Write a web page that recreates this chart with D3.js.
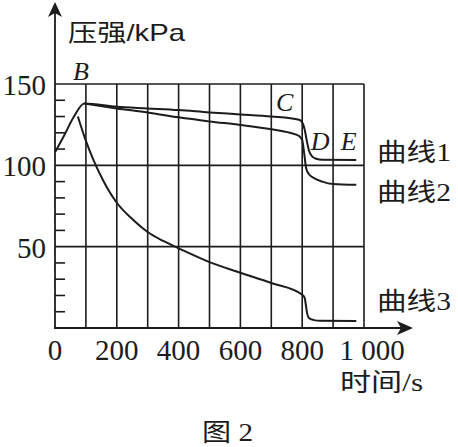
<!DOCTYPE html>
<html>
<head>
<meta charset="utf-8">
<script src="https://cdn.jsdelivr.net/npm/d3@7"></script>
<style>
  html, body { margin: 0; padding: 0; background: #fff; }
  svg { display: block; }
</style>
</head>
<body>
<svg id="chart" width="458" height="447"></svg>
<script>
// ---- data ----
const xTickValues = [0, 200, 400, 600, 800, 1000];
const xTickLabels = ["0", "200", "400", "600", "800", "1 000"];
const xGridValues = [100, 200, 300, 400, 500, 600, 700, 800, 900, 1000];
const yTickValues = [50, 100, 150];
const yTickLabels = ["50", "100", "150"];
const yMinorValues = [10, 20, 30, 40, 60, 70, 80, 90, 110, 120, 130, 140];

const curve1T = [0, 30, 60, 95, 200, 300, 400, 500, 600, 700, 790, 800, 808, 815, 822, 832, 845, 865, 975];
const curve1P = [108, 118.5, 129.5, 138, 136, 135, 134, 132.5, 131.3, 130, 128, 126.5, 122, 115, 109, 105.5, 104, 103.4, 103.3];

const curve2T = [95, 200, 300, 400, 500, 600, 700, 760, 790, 800, 806, 813, 822, 835, 865, 900, 975];
const curve2P = [138, 135, 132.5, 129.5, 127, 124.8, 122.2, 120, 118, 115.5, 108, 98, 94.5, 92.5, 90, 88.5, 88];

const curve3T = [74, 100, 125, 155, 200, 250, 300, 350, 400, 500, 600, 700, 800, 808, 812, 816, 822, 835, 860, 975];
const curve3P = [130, 115, 103, 91, 77, 67, 59, 53.5, 49, 40.5, 34, 27.7, 20.5, 18.5, 14, 9, 6.2, 5, 4.4, 4.3];

const pointNames = ["B", "C", "D", "E"];
const pointT = [58, 715, 828, 925];
const pointP = [152.4, 133.4, 109.4, 109.4];

const curveNames = ["曲线1", "曲线2", "曲线3"];
const curveLabelP = [102.6, 78, 11];

const yAxisTitle = "压强/kPa";
const xAxisTitle = "时间/s";
const figureCaption = "图 2";

// ---- layout ----
const svg = d3.select("#chart");
const x = d3.scaleLinear().domain([0, 1000]).range([55, 364]);
const y = d3.scaleLinear().domain([0, 150]).range([328, 84]);
const ink = "#1c1c1c";
const numFont = "'Liberation Serif', 'Times New Roman', serif";
const cjkFont = "'Liberation Serif', 'Noto Sans CJK SC', serif";

// horizontal grid lines
svg.append("g").selectAll("line").data(yTickValues).join("line")
  .attr("x1", x(0)).attr("x2", x(1000))
  .attr("y1", d => y(d)).attr("y2", d => y(d))
  .attr("stroke", ink).attr("stroke-width", 1.6);

// vertical grid lines
svg.append("g").selectAll("line").data(xGridValues).join("line")
  .attr("x1", d => x(d)).attr("x2", d => x(d))
  .attr("y1", y(0)).attr("y2", y(150))
  .attr("stroke", ink).attr("stroke-width", 1.6);

// minor ticks on y axis
svg.append("g").selectAll("line").data(yMinorValues).join("line")
  .attr("x1", x(0)).attr("x2", x(0) + 10)
  .attr("y1", d => y(d)).attr("y2", d => y(d))
  .attr("stroke", ink).attr("stroke-width", 1.6);

// axes
svg.append("line").attr("x1", x(0)).attr("x2", x(0)).attr("y1", y(0) + 0.8).attr("y2", 10)
  .attr("stroke", ink).attr("stroke-width", 1.8);
svg.append("line").attr("x1", x(0) - 0.8).attr("x2", 404).attr("y1", y(0)).attr("y2", y(0))
  .attr("stroke", ink).attr("stroke-width", 1.8);
// arrowheads
svg.append("path")
  .attr("d", `M${x(0)},2 L${x(0) + 7},17 L${x(0)},13 L${x(0) - 7},17 Z`)
  .attr("fill", ink);
svg.append("path")
  .attr("d", `M413,${y(0)} L397,${y(0) - 7} L401,${y(0)} L397,${y(0) + 7} Z`)
  .attr("fill", ink);

// y tick labels
svg.append("g").selectAll("text").data(yTickValues).join("text")
  .attr("x", 46).attr("y", d => y(d) + 11)
  .attr("text-anchor", "end")
  .attr("font-family", numFont).attr("font-size", 29).attr("fill", ink)
  .text((d, i) => yTickLabels[i]);

// x tick labels
svg.append("g").selectAll("text").data(xTickValues).join("text")
  .attr("x", (d, i) => x(d) + (xTickLabels[i].length > 3 ? 8 : 0))
  .attr("y", 360)
  .attr("text-anchor", "middle")
  .attr("font-family", numFont).attr("font-size", 29).attr("fill", ink)
  .text((d, i) => xTickLabels[i]);

// curves
const line = d3.line().x(d => x(d[0])).y(d => y(d[1])).curve(d3.curveMonotoneX);
const curves = [
  d3.zip(curve1T, curve1P),
  d3.zip(curve2T, curve2P),
  d3.zip(curve3T, curve3P)
];
svg.append("g").selectAll("path").data(curves).join("path")
  .attr("d", line)
  .attr("fill", "none").attr("stroke", ink).attr("stroke-width", 2)
  .attr("stroke-linejoin", "round");

// point letters
svg.append("g").selectAll("text").data(pointNames).join("text")
  .attr("x", (d, i) => x(pointT[i])).attr("y", (d, i) => y(pointP[i]))
  .attr("font-family", numFont).attr("font-style", "italic")
  .attr("font-size", 26).attr("fill", ink)
  .text(d => d);

// curve names
svg.append("g").selectAll("text").data(curveNames).join("text")
  .attr("x", 377).attr("y", (d, i) => y(curveLabelP[i]))
  .attr("font-family", cjkFont).attr("font-size", 25).attr("fill", ink)
  .attr("textLength", 74).attr("lengthAdjust", "spacingAndGlyphs")
  .text(d => d);

// axis titles
svg.append("text").attr("x", 68).attr("y", 41)
  .attr("font-family", "'Liberation Sans', 'Noto Sans CJK SC', sans-serif")
  .attr("font-size", 24).attr("fill", ink)
  .attr("textLength", 117).attr("lengthAdjust", "spacingAndGlyphs")
  .text(yAxisTitle);
svg.append("text").attr("x", 340).attr("y", 391)
  .attr("font-family", cjkFont).attr("font-size", 25).attr("fill", ink)
  .attr("textLength", 83).attr("lengthAdjust", "spacingAndGlyphs")
  .text(xAxisTitle);

// caption
svg.append("text").attr("x", 202).attr("y", 441)
  .attr("font-family", cjkFont).attr("font-size", 25).attr("fill", ink)
  .attr("textLength", 51).attr("lengthAdjust", "spacingAndGlyphs")
  .text(figureCaption);
</script>
</body>
</html>
